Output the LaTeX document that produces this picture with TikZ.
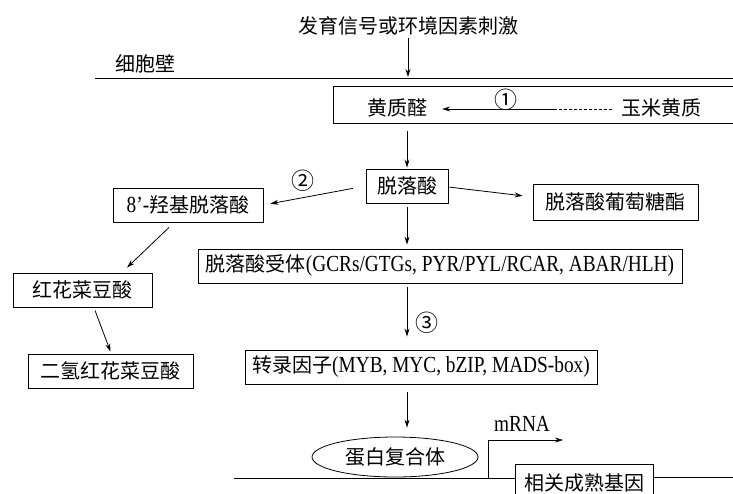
\documentclass[tikz,border=0pt]{standalone}
\usepackage{fontspec}
\setmainfont[FakeStretch=0.84]{Liberation Serif}
\newfontfamily\cjk{Noto Sans CJK SC}
\newcommand\latx[1]{{\fontsize{23}{26}\selectfont #1}}
\newcommand\circnum[1]{{\fontsize{23}{26}\selectfont\cjk #1}}
\usetikzlibrary{arrows.meta,shapes.geometric,calc}
\tikzset{
  box/.style={draw, line width=0.9pt, inner sep=0pt, minimum height=34pt},
  txt/.style={inner sep=0pt},
  arr/.style={-{Stealth[length=8pt,width=5pt]}, line width=0.8pt},
  plain/.style={line width=0.8pt},
}
\begin{document}
\begin{tikzpicture}[x=1pt,y=-1pt,every node/.style={font=\fontsize{20}{24}\selectfont}]
\useasboundingbox (0,0) rectangle (733,493);
\clip (0,0) rectangle (733,493);
\fill[white] (0,0) rectangle (733,493);

% signal and cell wall
\node[txt] (sig) at (408,26) {\cjk 发育信号或环境因素刺激};
\node[txt] (wall) at (145,64) {\cjk 细胞壁};
\coordinate (wl) at (95,78);
\coordinate (wr) at (733,78);
\draw[plain] (wl) -- (wr);
\coordinate (wallhit) at (408,77);
\draw[arr, shorten <=2pt] (sig.south -| wallhit) -- (wallhit);

% plastid box
\node[draw, line width=0.9pt, inner sep=0pt, minimum width=430pt, minimum height=37pt, anchor=north west] (plastid) at (333,86) {};
\node[txt] (xan) at (397,108) {\cjk 黄质醛};
\node[txt] (zea) at (661,108) {\cjk 玉米黄质};
\coordinate (mid) at (557,109);
\draw[plain, dash pattern=on 3pt off 2pt, shorten <=9pt] (zea.west |- mid) -- (mid);
\draw[arr, shorten >=15pt] (mid) -- (xan.east |- mid);
\node[txt] (c1) at (506,100) {\circnum{①}};

% ABA
\node[box, minimum width=82pt] (aba) at (407,186) {\cjk 脱落酸};
\draw[arr, shorten <=7pt, shorten >=1pt] (aba.north |- plastid.south) -- (aba.north);

% 8'-OH ABA
\node[box, minimum width=150pt] (oh) at (188,205) {\latx{8’-}{\cjk 羟基脱落酸}};
\draw[arr, shorten <=13pt, shorten >=7pt] (aba.west) -- (oh.east);
\node[txt] (c2) at (303,181) {\circnum{②}};

% ABA-GE
\node[box, minimum width=165pt, minimum height=36pt] (glc) at (615.5,202) {\cjk 脱落酸葡萄糖酯};
\draw[arr, shorten <=1pt, shorten >=10pt] ([yshift=-1pt]aba.east) -- ([yshift=5pt]glc.west);

% receptor
\node[box, minimum width=484pt] (rec) at (440,266) {{\cjk 脱落酸受体}\latx{(GCRs/GTGs, PYR/PYL/RCAR, ABAR/HLH)}};
\draw[arr, shorten <=4pt, shorten >=4pt] (aba.south) -- (aba.south |- rec.north);

% phaseic acid
\node[box, minimum width=139pt] (pa) at (82.5,290) {\cjk 红花菜豆酸};
\draw[arr] ([xshift=-19pt,yshift=-5pt]oh.south) -- ([xshift=44.5pt,yshift=5pt]pa.north);
\node[box, minimum width=165pt] (dpa) at (110.5,371) {\cjk 二氢红花菜豆酸};
\draw[arr] ([xshift=12.5pt,yshift=-3pt]pa.south) -- ([yshift=2pt]dpa.north);

% transcription factors
\node[box, minimum width=352pt] (tf) at (421,367) {{\cjk 转录因子}\latx{(MYB, MYC, bZIP, MADS-box)}};
\draw[arr, shorten <=4pt, shorten >=13pt] (aba.south |- rec.south) -- (aba.south |- tf.north);
\node[txt] (c3) at (427,323) {\circnum{③}};

% protein complex
\node[draw, ellipse, line width=0.8pt, inner sep=0pt, minimum width=166pt, minimum height=40pt] (cx) at (395,457) {\cjk 蛋白复合体};
\draw[arr, shorten <=8pt, shorten >=9pt] (aba.south |- tf.south) -- (aba.south |- cx.north);

% gene and DNA
\node[draw, line width=0.9pt, inner sep=0pt, minimum width=138pt, minimum height=38pt] (gene) at (584,483) {\cjk 相关成熟基因};
\coordinate (dl) at (234,478);
\coordinate (dr) at (733,477);
\draw[plain] (dl) -- (gene.west |- dl);
\draw[plain] (gene.east |- dr) -- (dr);
\coordinate (tss) at (488,478);
\coordinate (tssup) at (488,440);
\coordinate (tip) at (563,440);
\draw[arr] (tss) -- (tssup) -- (tip);
\node[txt] (mrna) at (522,424) {\latx{mRNA}};
\end{tikzpicture}
\end{document}
